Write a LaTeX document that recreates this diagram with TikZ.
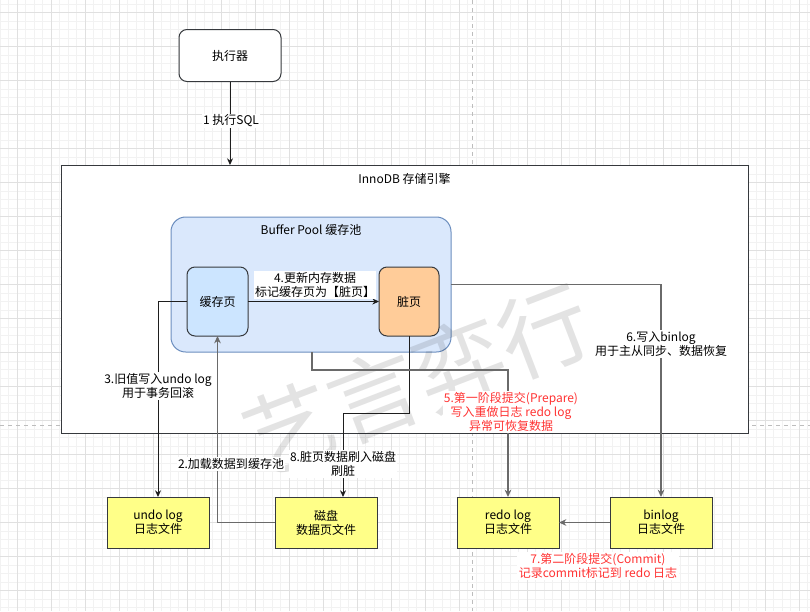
\documentclass[tikz,border=0pt]{standalone}
\usepackage{fontspec}
\setmainfont{Noto Sans CJK SC}
\usetikzlibrary{arrows.meta}
\definecolor{bpfill}{HTML}{DAE8FC}
\definecolor{bpdraw}{HTML}{6C8EBF}
\definecolor{cachefill}{HTML}{CCE5FF}
\definecolor{dirtyfill}{HTML}{FFCC99}
\definecolor{yelfill}{HTML}{FFFF88}
\definecolor{boxdraw}{HTML}{36393D}
\definecolor{edgedark}{HTML}{1E1E1E}
\definecolor{edgegray}{HTML}{6A6A6A}
\definecolor{redtxt}{HTML}{FF3333}
\definecolor{gridmajor}{HTML}{E0E0E0}
\definecolor{gridminor}{HTML}{F2F2F2}
\definecolor{pbreak}{HTML}{BDBDBD}
\tikzset{
  basebox/.style={draw=boxdraw, line width=0.75pt, inner sep=0pt, outer sep=0pt, align=center},
  execbox/.style={basebox, fill=white, minimum width=76.5pt, minimum height=39pt, rounded corners=6pt},
  enginebox/.style={draw=boxdraw, line width=0.75pt, fill=white, inner sep=0pt, outer sep=0pt, minimum width=515.25pt, minimum height=201pt},
  poolbox/.style={draw=bpdraw, line width=0.75pt, fill=bpfill, inner sep=0pt, outer sep=0pt, minimum width=210pt, minimum height=101.25pt, rounded corners=11pt},
  pagebox/.style={basebox, minimum width=45.75pt, minimum height=51.75pt, rounded corners=6pt},
  filebox/.style={basebox, fill=yelfill, minimum width=76.5pt, minimum height=38.25pt},
  darkedge/.style={draw=edgedark, line width=0.75pt, -{Stealth[length=5pt,width=4.5pt]}},
  grayedge/.style={draw=edgegray, line width=1.1pt, -{Stealth[length=5.5pt,width=5pt]}},
  elabel/.style={fill=white, inner sep=1pt, align=center, text=black},
  redlabel/.style={elabel, text=redtxt},
  minorgrid/.style={draw=gridminor, line width=0.5pt},
  majorgrid/.style={draw=gridmajor, line width=0.6pt},
  pagebreakline/.style={draw=pbreak, line width=0.6pt, dash pattern=on 3pt off 3pt},
}
\begin{document}
\begin{tikzpicture}[x=0.75pt, y=-0.75pt, font=\fontsize{9}{10.5}\selectfont]
\useasboundingbox (0,0) rectangle (810,611);
\fill[white] (0,0) rectangle (810,611);
% background grid
\foreach \i in {0,...,95} {\draw[minorgrid] ({\i*8.5},0) -- ({\i*8.5},611);}
\foreach \i in {0,...,71} {\draw[minorgrid] (0,{4.2+\i*8.5}) -- (810,{4.2+\i*8.5});}
\foreach \i in {0,...,23} {\draw[majorgrid] ({17+\i*34},0) -- ({17+\i*34},611);}
\foreach \i in {0,...,17} {\draw[majorgrid] (0,{12.7+\i*34}) -- (810,{12.7+\i*34});}
% page breaks
\draw[pagebreakline] (0,425) -- (810,425);
\draw[pagebreakline] (472,0) -- (472,611);

% boxes
\node[execbox] (exec) at (230,55.5) {执行器};
\node[enginebox] (innodb) at (404.5,299) {};
\node (innodbl) at (404.5,179) {InnoDB 存储引擎};
\node[poolbox] (bp) at (311,284.5) {};
\node (bpl) at (311,230) {Buffer Pool 缓存池};
\node[pagebox, fill=cachefill] (cache) at (217.5,301.5) {缓存页};
\node[pagebox, fill=dirtyfill, minimum width=45pt] (dirty) at (409,301.5) {脏页};
\node[filebox] (undo) at (158,522.5) {undo log\\日志文件};
\node[filebox] (disk) at (326,522.5) {磁盘\\数据页文件};
\node[filebox] (redo) at (508,522.5) {redo log\\日志文件};
\node[filebox] (binlog) at (661,522.5) {binlog\\日志文件};

% watermark
\node[rotate=21, text=black, opacity=0.11, font=\fontsize{68}{68}\selectfont] (wm) at (417,380) {艺言弈行};

% connectors
\coordinate (e1end) at (exec.south |- innodb.north);
\draw[darkedge] (exec.south) -- (e1end);
\draw[darkedge] (cache.east) -- (dirty.west);
\draw[darkedge] (cache.west) -| (undo.north);
\draw[grayedge] (disk.west) -| (cache.south);
\coordinate (c8a) at (409,413);
\coordinate (c8b) at (343,413);
\draw[darkedge] (dirty.south) -- (c8a) -- (c8b) -- (c8b |- disk.north);
\coordinate (c5a) at (312,370);
\coordinate (c5b) at (508,370);
\draw[grayedge] (c5a |- bp.south) -- (c5a) -- (c5b) -- (redo.north);
\draw[grayedge] (bp.east) -| (binlog.north);
\draw[grayedge] (binlog.west) -- (redo.east);

% connector labels
\node[elabel] (l1) at (231,121) {1 执行SQL};
\node[elabel] (l4) at (315,285) {4.更新内存数据\\标记缓存页为【脏页】};
\node[elabel] (l3) at (158,386) {3.旧值写入undo log\\用于事务回滚};
\node[elabel] (l2) at (231,464) {2.加载数据到缓存池};
\node[elabel] (l8) at (343,464) {8.脏页数据刷入磁盘\\刷脏};
\node[redlabel] (l5) at (511,412) {5.第一阶段提交(Prepare)\\写入重做日志 redo log\\异常可恢复数据};
\node[elabel] (l6) at (661,344) {6.写入binlog\\用于主从同步、数据恢复};
\node[redlabel] (l7) at (598,566) {7.第二阶段提交(Commit)\\记录commit标记到 redo 日志};
\end{tikzpicture}
\end{document}
